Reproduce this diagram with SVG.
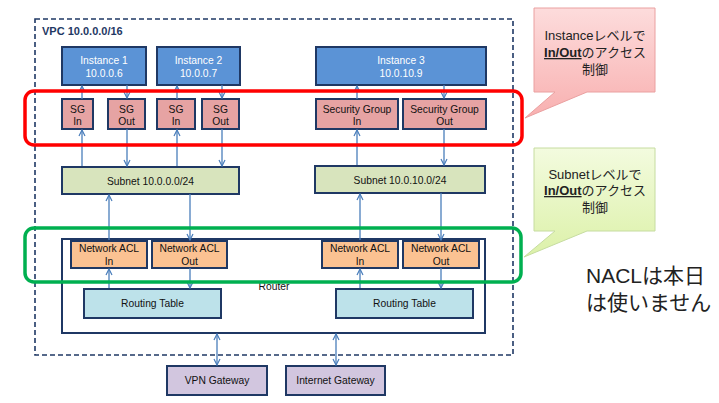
<svg xmlns="http://www.w3.org/2000/svg" width="719" height="403" viewBox="0 0 719 403">
<style>
text{font-family:"Liberation Sans","Noto Sans CJK JP",sans-serif;font-size:10.3px;text-anchor:middle}
.box{stroke:#1f3864;stroke-width:2}
.inst{fill:#5b93d6}
.sg{fill:#e6a3a3}
.sub{fill:#d8e4bd}
.acl{fill:#fbc292}
.rt{fill:#bde2ea}
.gw{fill:#d2c6df}
.w{fill:#fff}
.d{fill:#111}
.c line{stroke:#4a7ebb;stroke-width:1.3;fill:none}
.up{marker-end:url(#ah)}
.dbl{marker-end:url(#ah);marker-start:url(#ahs)}
.call{font-size:13px;fill:#222}
.big{font-size:21px;fill:#222;text-anchor:start}
</style>
<defs>
<marker id="ah" viewBox="0 0 8 8" refX="7" refY="4" markerWidth="8" markerHeight="8" markerUnits="userSpaceOnUse" orient="auto"><path d="M1,1 L7,4 L1,7" fill="none" stroke="#4a7ebb" stroke-width="1.2"/></marker>
<marker id="ahs" viewBox="0 0 8 8" refX="1" refY="4" markerWidth="8" markerHeight="8" markerUnits="userSpaceOnUse" orient="auto"><path d="M7,1 L1,4 L7,7" fill="none" stroke="#4a7ebb" stroke-width="1.2"/></marker>
<linearGradient id="pg" x1="0" y1="0" x2="0" y2="1"><stop offset="0" stop-color="#fddcdc"/><stop offset="1" stop-color="#f8b0b0"/></linearGradient>
<linearGradient id="gg" x1="0" y1="0" x2="0" y2="1"><stop offset="0" stop-color="#f3fbdf"/><stop offset="1" stop-color="#dcf1a8"/></linearGradient>
</defs>
<rect x="0" y="0" width="719" height="403" fill="#fff"/>
<g id="vpc">
<rect x="35" y="19" width="478" height="336" fill="none" stroke="#1f3864" stroke-width="1.6" stroke-dasharray="5,3"/>
<text x="42" y="35" style="font-size:11px;font-weight:bold;fill:#1f3864;text-anchor:start">VPC 10.0.0.0/16</text>
</g>
<g id="router">
<rect x="62" y="239" width="423" height="94" fill="#fff" class="box"/>
<text x="274" y="290" class="d">Router</text>
</g>
<g id="instance1"><rect x="62" y="47" width="84" height="38" class="box inst"/><text x="104" y="64" class="w">Instance 1</text><text x="104" y="77" class="w">10.0.0.6</text></g>
<g id="instance2"><rect x="157" y="47" width="83" height="38" class="box inst"/><text x="198.5" y="64" class="w">Instance 2</text><text x="198.5" y="77" class="w">10.0.0.7</text></g>
<g id="instance3"><rect x="316" y="47" width="170" height="38" class="box inst"/><text x="401" y="64" class="w">Instance 3</text><text x="401" y="77" class="w">10.0.10.9</text></g>
<g id="sg-in1"><rect x="62" y="99" width="31" height="30" class="box sg"/><text x="77.5" y="113" class="d">SG</text><text x="77.5" y="125" class="d">In</text></g>
<g id="sg-out1"><rect x="108" y="99" width="37" height="30" class="box sg"/><text x="126.5" y="113" class="d">SG</text><text x="126.5" y="125" class="d">Out</text></g>
<g id="sg-in2"><rect x="157" y="99" width="38" height="30" class="box sg"/><text x="176" y="113" class="d">SG</text><text x="176" y="125" class="d">In</text></g>
<g id="sg-out2"><rect x="202" y="99" width="37" height="30" class="box sg"/><text x="220.5" y="113" class="d">SG</text><text x="220.5" y="125" class="d">Out</text></g>
<g id="sg-in3"><rect x="316" y="99" width="82" height="30" class="box sg"/><text x="357" y="113" class="d">Security Group</text><text x="357" y="125" class="d">In</text></g>
<g id="sg-out3"><rect x="403" y="99" width="83" height="30" class="box sg"/><text x="444.5" y="113" class="d">Security Group</text><text x="444.5" y="125" class="d">Out</text></g>
<g id="subnet1"><rect x="62" y="167" width="177" height="27" class="box sub"/><text x="150.5" y="185" class="d">Subnet 10.0.0.0/24</text></g>
<g id="subnet2"><rect x="315" y="166" width="170" height="27" class="box sub"/><text x="400" y="184" class="d">Subnet 10.0.10.0/24</text></g>
<g id="acl-in1"><rect x="71" y="241" width="76" height="27" class="box acl"/><text x="109" y="252" class="d">Network ACL</text><text x="109" y="265" class="d">In</text></g>
<g id="acl-out1"><rect x="152" y="241" width="75" height="27" class="box acl"/><text x="189.5" y="252" class="d">Network ACL</text><text x="189.5" y="265" class="d">Out</text></g>
<g id="acl-in2"><rect x="322" y="241" width="76" height="27" class="box acl"/><text x="360" y="252" class="d">Network ACL</text><text x="360" y="265" class="d">In</text></g>
<g id="acl-out2"><rect x="403" y="241" width="76" height="27" class="box acl"/><text x="441" y="252" class="d">Network ACL</text><text x="441" y="265" class="d">Out</text></g>
<g id="rt1"><rect x="84" y="289" width="137" height="29" class="box rt"/><text x="152.5" y="307" class="d">Routing Table</text></g>
<g id="rt2"><rect x="336" y="289" width="137" height="29" class="box rt"/><text x="404.5" y="307" class="d">Routing Table</text></g>
<g id="vpn-gw"><rect x="167" y="366" width="100" height="29" class="box gw"/><text x="217" y="384" class="d">VPN Gateway</text></g>
<g id="inet-gw"><rect x="286" y="366" width="99" height="29" class="box gw"/><text x="335.5" y="384" class="d">Internet Gateway</text></g>
<g id="connectors" class="c">
<line x1="82" y1="99" x2="82" y2="86" class="up"/>
<line x1="127" y1="85" x2="127" y2="98" class="up"/>
<line x1="177" y1="99" x2="177" y2="86" class="up"/>
<line x1="222" y1="85" x2="222" y2="98" class="up"/>
<line x1="357" y1="99" x2="357" y2="86" class="up"/>
<line x1="444" y1="85" x2="444" y2="98" class="up"/>
<line x1="82" y1="166" x2="82" y2="130" class="up"/>
<line x1="127" y1="129" x2="127" y2="166" class="up"/>
<line x1="177" y1="166" x2="177" y2="130" class="up"/>
<line x1="222" y1="129" x2="222" y2="166" class="up"/>
<line x1="357" y1="165" x2="357" y2="130" class="up"/>
<line x1="444" y1="129" x2="444" y2="165" class="up"/>
<line x1="109" y1="240" x2="109" y2="195" class="up"/>
<line x1="190" y1="194" x2="190" y2="240" class="up"/>
<line x1="360" y1="240" x2="360" y2="194" class="up"/>
<line x1="441" y1="193" x2="441" y2="240" class="up"/>
<line x1="109" y1="288" x2="109" y2="269" class="up"/>
<line x1="190" y1="268" x2="190" y2="288" class="up"/>
<line x1="360" y1="288" x2="360" y2="269" class="up"/>
<line x1="441" y1="268" x2="441" y2="288" class="up"/>
<line x1="217" y1="334" x2="217" y2="365" class="dbl"/>
<line x1="336" y1="334" x2="336" y2="365" class="dbl"/>
</g>
<g id="sg-highlight"><rect x="25" y="91" width="497" height="54" rx="9" fill="none" stroke="#ff0000" stroke-width="3.5"/></g>
<g id="nacl-highlight"><rect x="25" y="228" width="496" height="54" rx="9" fill="none" stroke="#00b050" stroke-width="3.5"/></g>
<g id="callout-instance">
<path d="M534,8 H655 V92 H587 L525,118 L555,92 H534 Z" fill="url(#pg)" stroke="#eaa0a0" stroke-width="1"/>
<text x="595" y="40" class="call">Instanceレベルで</text>
<text x="595" y="57" class="call"><tspan style="font-weight:bold;text-decoration:underline">In/Out</tspan>のアクセス</text>
<text x="595" y="74" class="call">制御</text>
</g>
<g id="callout-subnet">
<path d="M534,148 H655 V231 H587 L524,257 L555,231 H534 Z" fill="url(#gg)" stroke="#c6dca0" stroke-width="1"/>
<text x="595" y="179" class="call">Subnetレベルで</text>
<text x="595" y="195" class="call"><tspan style="font-weight:bold;text-decoration:underline">In/Out</tspan>のアクセス</text>
<text x="595" y="212" class="call">制御</text>
</g>
<g id="note">
<text x="586" y="283" class="big">NACLは本日</text>
<text x="586" y="310" class="big">は使いません</text>
</g>
</svg>
